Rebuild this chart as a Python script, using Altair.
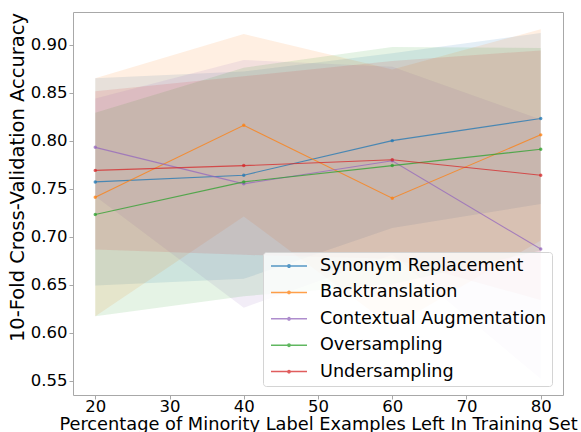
import altair as alt
import pandas as pd

# Percentage of minority-label examples kept in the training set
pct = [20, 40, 60, 80]

series_names = [
    "Synonym Replacement",
    "Backtranslation",
    "Contextual Augmentation",
    "Oversampling",
    "Undersampling",
]
series_colors = ["#1f77b4", "#ff7f0e", "#9467bd", "#2ca02c", "#d62728"]

# Mean 10-fold CV accuracy per method
syn_mean = [0.757, 0.764, 0.800, 0.823]
back_mean = [0.741, 0.816, 0.740, 0.806]
ctx_mean = [0.793, 0.755, 0.779, 0.687]
over_mean = [0.723, 0.757, 0.774, 0.791]
under_mean = [0.769, 0.774, 0.780, 0.764]

# Standard deviation across folds
syn_std = [0.108, 0.108, 0.091, 0.089]
back_std = [0.124, 0.095, 0.134, 0.110]
ctx_std = [0.051, 0.129, 0.098, 0.135]
over_std = [0.106, 0.119, 0.1235, 0.1055]
under_std = [0.0825, 0.093, 0.103, 0.130]

means = [syn_mean, back_mean, ctx_mean, over_mean, under_mean]
stds = [syn_std, back_std, ctx_std, over_std, under_std]

y_ticks = [0.55, 0.60, 0.65, 0.70, 0.75, 0.80, 0.85, 0.90]
x_ticks = [20, 30, 40, 50, 60, 70, 80]

rows = []
for name, m_list, s_list in zip(series_names, means, stds):
    for p, m, s in zip(pct, m_list, s_list):
        rows.append({"pct": p, "series": name, "mean": m, "lo": m - s, "hi": m + s})
df = pd.DataFrame(rows)

font = "DejaVu Sans"

x_enc = alt.X(
    "pct:Q",
    scale=alt.Scale(domain=[17, 83], nice=False, zero=False),
    axis=alt.Axis(
        values=x_ticks,
        labelPadding=-1,
        title="Percentage of Minority Label Examples Left In Training Set",
        titleFontSize=17.8,
        titleBaseline="alphabetic",
        titleY=34.5,
    ),
)
y_scale = alt.Scale(domain=[0.535, 0.934], nice=False, zero=False)

color_scale = alt.Scale(domain=series_names, range=series_colors)

# Shaded mean +/- std bands
bands = alt.Chart(df).mark_area(opacity=0.12).encode(
    x=x_enc,
    y=alt.Y("lo:Q", scale=y_scale),
    y2="hi:Q",
    color=alt.Color("series:N", scale=color_scale, legend=None),
)

lines = alt.Chart(df).mark_line(strokeWidth=1.1, opacity=0.75).encode(
    x=x_enc,
    y=alt.Y(
        "mean:Q",
        scale=y_scale,
        axis=alt.Axis(
            values=y_ticks,
            format=".2f",
            title="10-Fold Cross-Validation Accuracy",
            titleFontSize=19.5,
            titleX=-46,
            titleY=165,
        ),
    ),
    color=alt.Color(
        "series:N",
        scale=color_scale,
        title=None,
        legend=alt.Legend(
            orient="none",
            legendX=190,
            legendY=240,
            symbolType="M-2.25,0L2.25,0M-0.15,0A0.15,0.15 0 1,0 0.15,0A0.15,0.15 0 1,0 -0.15,0",
            symbolSize=256,
            symbolStrokeWidth=1.5,
            symbolOpacity=0.75,
            symbolOffset=12,
            labelFont=font,
            labelFontSize=17.6,
            labelColor="black",
            labelOffset=22,
            labelLimit=400,
            padding=5,
            rowPadding=8.4,
            fillColor="rgba(255,255,255,0.8)",
            strokeColor="#d4d4d4",
            cornerRadius=3,
        ),
    ),
)

points = alt.Chart(df).mark_point(filled=True, size=12, opacity=0.75).encode(
    x=x_enc,
    y=alt.Y("mean:Q", scale=y_scale),
    color=alt.Color("series:N", scale=color_scale, legend=None),
)

chart = (
    alt.layer(bands, lines, points)
    .resolve_legend(color="independent")
    .properties(
        width=490,
        height=383,
        autosize=alt.AutoSizeParams(type="none"),
        padding={"left": 73, "top": 12, "right": 18, "bottom": 37},
    )
    .configure_view(stroke="#a8a8a8", strokeWidth=1)
    .configure_axis(
        domain=False,
        grid=False,
        tickColor="#a8a8a8",
        tickSize=4,
        labelFont=font,
        labelFontSize=16.5,
        labelColor="black",
        labelPadding=2,
        titleFont=font,
        titleFontSize=17.5,
        titleFontWeight="normal",
        titleColor="black",
    )
)

chart.save("out.html", embed_options={"renderer": "svg", "actions": False})
